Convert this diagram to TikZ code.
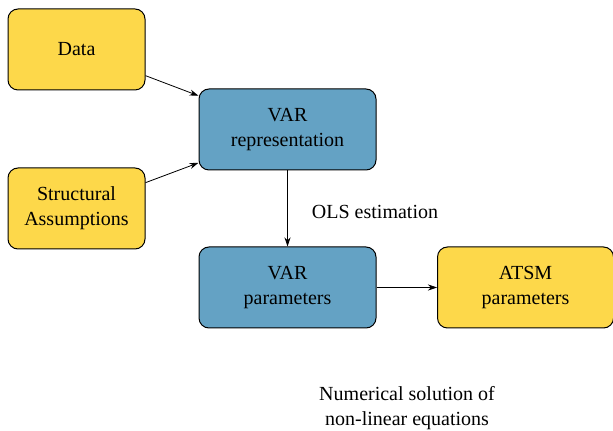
\documentclass[tikz,border=0pt]{standalone}
\usepackage{fontspec}
\setmainfont{Liberation Serif}
\usetikzlibrary{arrows.meta}
\definecolor{boxyellow}{RGB}{253,216,74}
\definecolor{boxblue}{RGB}{100,162,196}
\tikzset{
  box/.style={draw=black, line width=0.5pt, rounded corners=5pt, align=center,
    minimum height=40.5pt, text width=80pt, inner sep=0pt, font=\fontsize{10}{12.5}\selectfont},
  ybox/.style={box, fill=boxyellow, minimum width=68.5pt},
  bbox/.style={box, fill=boxblue, minimum width=88.5pt},
  conn/.style={line width=0.4pt, -{Stealth[length=4.5pt,width=3pt]}},
  lbl/.style={align=center, inner sep=0pt, font=\fontsize{10}{12.5}\selectfont}
}
\begin{document}
\begin{tikzpicture}[x=0.5pt,y=-0.5pt]
\useasboundingbox (0,0) rectangle (613,431);
\node[ybox, text width=60pt] (data) at (76.5,49.5) {Data};
\node[ybox, text width=60pt] (struct) at (76.5,208.5) {Structural\\Assumptions};
\node[bbox] (varrep) at (287.5,129.5) {VAR\\representation};
\node[bbox] (varpar) at (287.5,287.5) {VAR\\parameters};
\node[ybox, minimum width=88pt, text width=80pt] (atsm) at (525.5,287.5) {ATSM\\parameters};
\draw[conn] (data) -- (varrep);
\draw[conn] (struct) -- (varrep);
\draw[conn] (varrep) -- (varpar);
\draw[conn] (varpar) -- (atsm);
\node[lbl] (ols) at (375,212) {OLS estimation};
\node[lbl] (num) at (407,408.5) {Numerical solution of\\non-linear equations};
\end{tikzpicture}
\end{document}
